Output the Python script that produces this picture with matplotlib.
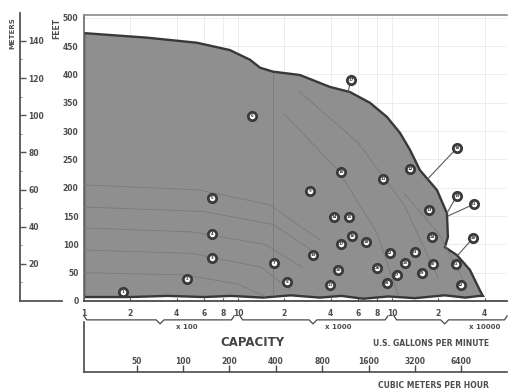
import numpy as np
import matplotlib
matplotlib.use("Agg")
import matplotlib.pyplot as plt

# gallons per minute -> feet of head, outline of the whole range
edge_gpm = [100, 256, 542, 887, 1197, 1390, 1687, 2527, 3957, 5336, 7197, 9280,
            11270, 13090, 15200, 19600, 22770, 23100, 22090, 26430, 32080, 37240, 38970,
            37000, 30000, 22000, 14100, 9500, 6500, 4700, 3400, 2200, 1450, 900, 600, 350, 200, 100]
edge_ft = [473, 465, 456, 443, 426, 412, 405, 399, 378, 369, 350, 325,
           297, 267, 231, 196, 155, 113, 95, 81, 55, 19, 9,
           9, 6, 10, 5, 8, 4, 9, 6, 10, 6, 9, 7, 9, 7, 7]

# numbered pump models inside the range
model_gpm = [180, 470, 680, 680, 680, 1230, 1710, 2080, 2930, 4670, 8740, 13090,
             17390, 4200, 5260, 5500, 4670, 6780, 3070, 4460, 3960, 9700, 14100,
             18190, 12140, 8000, 10770, 9280, 15660, 18460, 26050, 28060]
model_ft = [16, 39, 76, 118, 182, 327, 67, 34, 194, 228, 216, 233,
            161, 148, 148, 115, 101, 104, 81, 55, 28, 85, 87,
            113, 67, 58, 46, 32, 49, 65, 65, 28]
model_no = [str(i) for i in range(1, 33)]

# models labelled outside with a leader line
call_gpm = [5420, 26420, 26420, 34070, 33570]
call_ft = [390, 270, 186, 171, 111]
call_end_gpm = [5180, 16870, 22760, 23100, 26830]
call_end_ft = [369, 214, 155, 150, 81]
call_no = ["17", "18", "19", "21", "20"]

# faint single pump curves inside the range
curves = [
    ([100, 560, 1600, 3400], [205, 196, 170, 108]),
    ([100, 600, 1700, 3000], [166, 158, 135, 90]),
    ([100, 500, 1500, 2600], [129, 122, 100, 60]),
    ([100, 500, 1400, 2200], [90, 84, 60, 20]),
    ([100, 450, 1000, 1500], [50, 46, 30, 8]),
    ([1700, 1700], [400, 10]),
    ([2500, 6000, 12000, 20000], [370, 280, 170, 40]),
    ([2000, 4500, 8000, 11000], [330, 230, 120, 10]),
    ([12000, 20000, 30000], [190, 120, 30]),
]

gpm_ticks = [100, 200, 400, 600, 800, 1000, 2000, 4000, 6000, 8000, 10000, 20000, 40000]
gpm_labels = ["1", "2", "4", "6", "8", "10", "2", "4", "6", "8", "10", "2", "4"]
ft_ticks = list(range(0, 501, 50))
m_ticks = [20, 40, 60, 80, 100, 120, 140]
m3h_ticks = [50, 100, 200, 400, 800, 1600, 3200, 6400]

brackets = [(100, 312, 944, "x 100", 467),
            (1030, 3070, 9420, "x 1000", 4460),
            (10310, 22000, 56000, "x 10000", 40000)]

W, H = 509, 391
XMIN, XMAX = 100, 55900
YMAX = 505
GPM_PER_M3H = 4.4029
FT_PER_M = 3.281
TXT = "#4d4d4d"

fig = plt.figure(figsize=(W / 100, H / 100), dpi=100)
fig.patch.set_facecolor("white")

left, bottom = 84 / W, (H - 301) / H
width, height = (507 - 84) / W, (301 - 15) / H
ax = fig.add_axes([left, bottom, width, height])
ax.set_xscale("log")
ax.set_xlim(XMIN, XMAX)
ax.set_ylim(0, YMAX)

# faint chart grid behind the shading
for g in [200, 400, 600, 800, 1000, 2000, 4000, 6000, 8000, 10000, 20000, 40000]:
    ax.axvline(g, color="#ededed", lw=0.7, zorder=0)
for f in ft_ticks[1:]:
    ax.axhline(f, color="#ededed", lw=0.7, zorder=0)

ax.fill(edge_gpm, edge_ft, facecolor="#8f8f8f", edgecolor="#383838", lw=1.7, zorder=2)
for cx, cy in curves:
    ax.plot(cx, cy, color="#7a7a7a", lw=0.6, zorder=3)

for x0, y0, x1, y1 in zip(call_gpm, call_ft, call_end_gpm, call_end_ft):
    ax.plot([x0, x1], [y0, y1], color="#5a5a5a", lw=0.8, zorder=4, clip_on=False)

ax.scatter(model_gpm + call_gpm, model_ft + call_ft, s=36, facecolor="white",
           edgecolor="#3a3a3a", linewidths=2.0, zorder=5, clip_on=False)
for x, y, n in zip(model_gpm + call_gpm, model_ft + call_ft, model_no + call_no):
    ax.text(x, y, n, fontsize=2.8, color="#333333", ha="center", va="center",
            fontweight="bold", zorder=6)

ax.spines["right"].set_visible(False)
ax.spines["top"].set_color("#8a8a8a")
ax.spines["top"].set_linewidth(1.2)
ax.spines["left"].set_color("#6a6a6a")
ax.spines["left"].set_linewidth(1.2)
ax.spines["bottom"].set_color("#4a4a4a")
ax.spines["bottom"].set_linewidth(1.3)

ax.set_xticks(gpm_ticks)
ax.set_xticklabels(gpm_labels)
ax.xaxis.set_minor_locator(matplotlib.ticker.NullLocator())
ax.tick_params(axis="x", direction="in", length=2, color="#4a4a4a", pad=6,
               labelsize=5.5, labelcolor=TXT)
ax.set_yticks(ft_ticks)
ax.tick_params(axis="y", length=0, pad=4, labelsize=5.5, labelcolor=TXT)
for lab in ax.get_xticklabels() + ax.get_yticklabels():
    lab.set_fontweight("bold")

# braces under each decade
tr = ax.get_xaxis_transform()
for x0, xn, x1, label, xt in brackets:
    bx = [x0, x0 * 1.04, xn / 1.06, xn, xn * 1.06, x1 / 1.04, x1]
    by = [-0.052, -0.066, -0.066, -0.080, -0.066, -0.066, -0.052]
    ax.plot(bx, by, transform=tr, color="#4a4a4a", lw=0.9, clip_on=False)
    ax.text(xt, -0.092, label, transform=tr, fontsize=5, color=TXT,
            ha="center", va="center", fontweight="bold", clip_on=False)

# meters axis on the far left
axm = fig.add_axes([20 / W, bottom, (62 - 20) / W, (301 - 13) / H])
axm.set_ylim(0, (301 - 13) / (15 + height * H - 15) * YMAX / FT_PER_M)
axm.set_xlim(0, 1)
axm.patch.set_alpha(0)
axm.spines["top"].set_visible(False)
axm.spines["right"].set_visible(False)
for s in ["left", "bottom"]:
    axm.spines[s].set_color("#555555")
    axm.spines[s].set_linewidth(1.3)
axm.set_xticks([])
axm.set_yticks(m_ticks)
axm.set_yticks(range(10, 150, 10), minor=True)
axm.tick_params(axis="y", which="major", direction="in", length=4, width=1,
                color="#555555", pad=-6, labelsize=5.5, labelcolor=TXT)
axm.tick_params(axis="y", which="minor", direction="in", length=1.5, color="#777777")
for lab in axm.get_yticklabels():
    lab.set_horizontalalignment("left")
    lab.set_fontweight("bold")

fig.text(12 / W, 1 - 33 / H, "METERS", rotation=90, fontsize=5, color=TXT,
         ha="center", va="center", fontweight="bold")
fig.text(57 / W, 1 - 28 / H, "FEET", rotation=90, fontsize=5.5, color=TXT,
         ha="center", va="center", fontweight="bold")

# cubic meters per hour axis
axc = fig.add_axes([left, (H - 372) / H, width, 50 / H])
axc.set_xscale("log")
axc.set_xlim(XMIN / GPM_PER_M3H, XMAX / GPM_PER_M3H)
axc.set_ylim(0, 1)
axc.patch.set_alpha(0)
axc.spines["top"].set_visible(False)
axc.spines["right"].set_visible(False)
for s in ["left", "bottom"]:
    axc.spines[s].set_color("#4a4a4a")
    axc.spines[s].set_linewidth(1.2)
axc.set_yticks([])
axc.set_xticks(m3h_ticks)
axc.set_xticklabels([str(v) for v in m3h_ticks])
axc.xaxis.set_minor_locator(matplotlib.ticker.NullLocator())
axc.tick_params(axis="x", direction="in", length=5, width=1, color="#4a4a4a",
                pad=-4, labelsize=5.5, labelcolor=TXT)
for lab in axc.get_xticklabels():
    lab.set_verticalalignment("bottom")
    lab.set_fontweight("bold")

fig.text(252 / W, 1 - 343 / H, "CAPACITY", fontsize=8.5, color="#444444",
         ha="center", va="center", fontweight="bold")
fig.text(431 / W, 1 - 343 / H, "U.S. GALLONS PER MINUTE", fontsize=5.5, color=TXT,
         ha="center", va="center", fontweight="bold")
fig.text(433 / W, 1 - 385 / H, "CUBIC METERS PER HOUR", fontsize=5.5, color=TXT,
         ha="center", va="center", fontweight="bold")

fig.savefig("out.png", dpi=100)
